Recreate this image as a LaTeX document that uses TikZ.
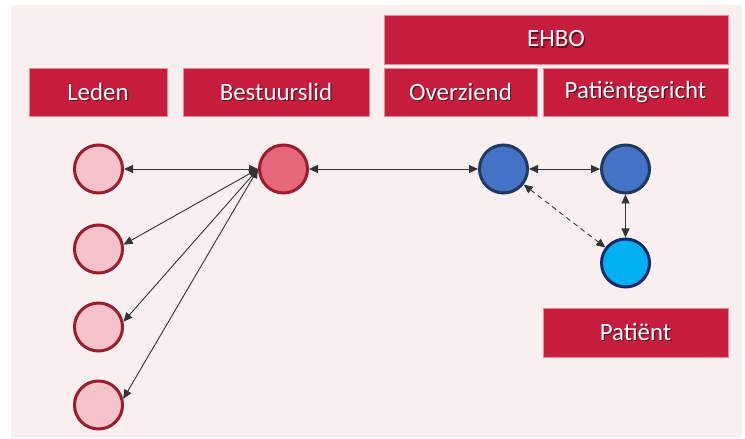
\documentclass[tikz,border=0pt]{standalone}
\usepackage{fontspec}
\setmainfont{Carlito}
\usetikzlibrary{arrows.meta}
\definecolor{bg}{HTML}{F9EFEF}
\definecolor{boxred}{HTML}{C61C3D}
\definecolor{boxedge}{HTML}{E58A9A}
\definecolor{lightpink}{HTML}{F7C3CA}
\definecolor{midpink}{HTML}{E5677A}
\definecolor{darkred}{HTML}{9B1B30}
\definecolor{blueA}{HTML}{4472C4}
\definecolor{navy}{HTML}{1F3864}
\definecolor{cyanC}{HTML}{00B0F0}
\definecolor{navyC}{HTML}{0E2A6B}
\definecolor{txtshadow}{HTML}{5C0A1C}
\newcommand\shtxt[1]{\leavevmode\rlap{\kern1.2bp\raisebox{-1.3bp}{\color{txtshadow}#1}}#1}
\begin{document}
\begin{tikzpicture}[x=1bp,y=-1bp,
  lbl/.style={fill=boxred, draw=boxedge, line width=0.6bp, text=white,
    font=\fontsize{25}{28}\selectfont, inner sep=0pt, minimum height=48bp},
  dot/.style={circle, minimum size=48bp, inner sep=0pt, line width=3bp},
  member/.style={dot, fill=lightpink, draw=darkred},
  board/.style={dot, fill=midpink, draw=darkred},
  aid/.style={dot, fill=blueA, draw=navy},
  patient/.style={dot, fill=cyanC, draw=navyC},
  arr/.style={{Triangle[length=9bp,width=8bp]}-{Triangle[length=9bp,width=8bp]},
    line width=0.9bp, draw=black!80},
  dasharr/.style={arr, dash pattern=on 5bp off 4bp}
]
\useasboundingbox (0,0) rectangle (745,439);
\fill[bg] (11,5) rectangle (742,438);

% header boxes
\node[lbl, minimum width=138bp] (hleden) at (98,92.5) {\shtxt{Leden}};
\node[lbl, minimum width=186bp] (hbest) at (276,92.5) {\shtxt{Bestuurslid}};
\node[lbl, minimum width=344bp, minimum height=49bp] (hehbo) at (556,39.5) {\shtxt{EHBO}};
\node[lbl, minimum width=153bp] (hover) at (460.5,92.5) {\shtxt{Overziend}};
\node[lbl, minimum width=185bp] (hpgr) at (635.5,92.5) {\shtxt{Patiëntgericht}};
\node[lbl, minimum width=185bp, minimum height=49bp] (hpat) at (635.5,332.5) {\shtxt{Patiënt}};

% circles
\node[member] (m1) at (98.5,169) {};
\node[member] (m2) at (98.5,249) {};
\node[member] (m3) at (98.5,327) {};
\node[member] (m4) at (98.5,405) {};
\node[board] (b) at (283.5,169) {};
\node[aid] (o) at (503.5,169) {};
\node[aid] (g) at (625.5,169) {};
\node[patient] (p) at (625.5,263) {};

% connectors
\draw[arr] (b.west) -- (m1.east);
\draw[arr] (b.west) -- (m2.10);
\draw[arr] (b.west) -- (m3.12);
\draw[arr] (b.west) -- (m4.14);
\draw[arr] (b.east) -- (o.west);
\draw[arr] (o.east) -- (g.west);
\draw[arr] (g.south) -- (p.north);
\draw[dasharr] (o) -- (p);
\end{tikzpicture}
\end{document}
